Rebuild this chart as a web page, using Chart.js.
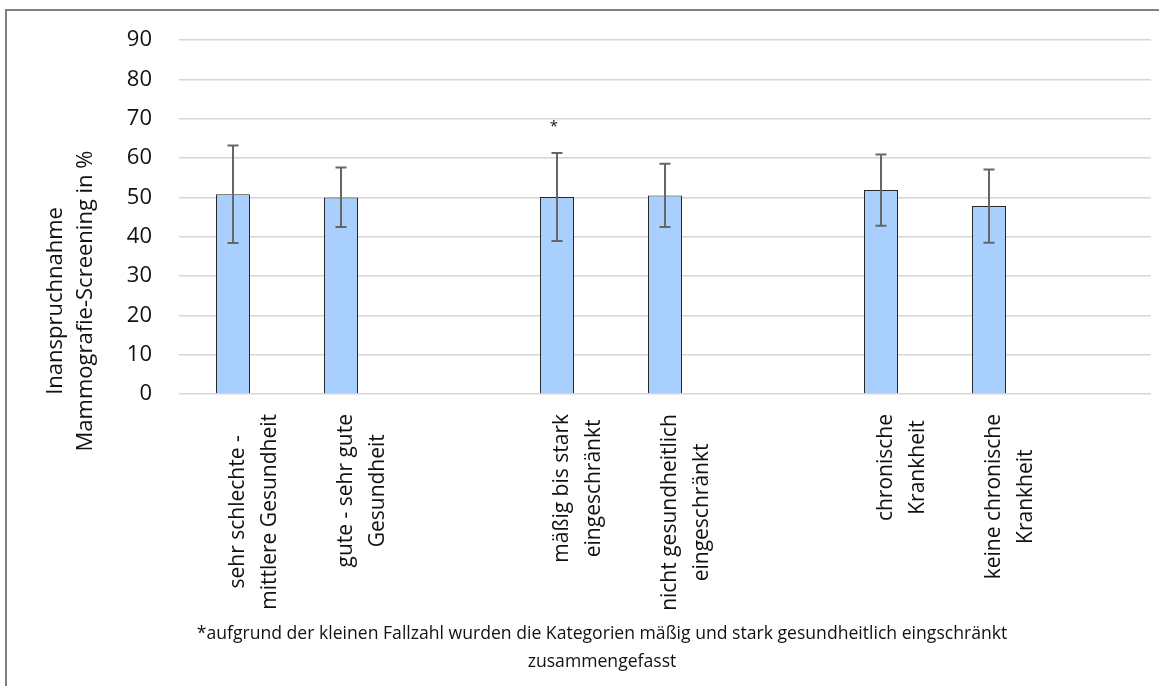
<!DOCTYPE html>
<html>
<head>
<meta charset="utf-8">
<title>Inanspruchnahme Mammografie-Screening</title>
<script src="https://cdn.jsdelivr.net/npm/chart.js@4.4.1/dist/chart.umd.min.js"></script>
<style>
  html, body { margin: 0; padding: 0; background: #ffffff; }
  canvas { display: block; }
</style>
</head>
<body>
<canvas id="chart" width="1159" height="686"></canvas>
<script>
// Categories (empty slots separate the three groups)
const categories = [
  ["sehr schlechte -", "mittlere Gesundheit"],
  ["gute - sehr gute", "Gesundheit"],
  "",
  ["mäßig bis stark", "eingeschränkt"],
  ["nicht gesundheitlich", "eingeschränkt"],
  "",
  ["chronische", "Krankheit"],
  ["keine chronische", "Krankheit"],
  ""
];

// Uptake in % with confidence interval bounds
const uptake  = [50.8, 50.0, null, 50.1, 50.5, null, 51.9, 47.8, null];
const ciLower = [38.4, 42.5, null, 38.9, 42.5, null, 42.8, 38.5, null];
const ciUpper = [63.2, 57.6, null, 61.3, 58.6, null, 60.9, 57.1, null];
const flags   = ["", "", "", "*", "", "", "", "", ""];

// Axis and notes
const yMin = 0;
const yMax = 90;
const yStep = 10;
const yTitle = ["Inanspruchnahme", "Mammografie-Screening in %"];
const footnote = [
  "*aufgrund der kleinen Fallzahl wurden die Kategorien mäßig und stark gesundheitlich eingschränkt",
  "zusammengefasst"
];

const FONT = '"Open Sans", "Noto Sans", sans-serif';
const TEXT = '#111111';

const overlay = {
  id: 'overlay',
  afterDatasetsDraw(chart) {
    const { ctx, scales: { x, y } } = chart;
    ctx.save();
    ctx.strokeStyle = '#666666';
    ctx.lineWidth = 2;
    uptake.forEach((v, i) => {
      if (v == null) return;
      const px = x.getPixelForValue(i);
      const top = y.getPixelForValue(ciUpper[i]);
      const bot = y.getPixelForValue(ciLower[i]);
      ctx.beginPath();
      ctx.moveTo(px, top); ctx.lineTo(px, bot);
      ctx.moveTo(px - 5.5, top); ctx.lineTo(px + 5.5, top);
      ctx.moveTo(px - 5.5, bot); ctx.lineTo(px + 5.5, bot);
      ctx.stroke();
      if (flags[i]) {
        ctx.fillStyle = TEXT;
        ctx.font = '15px ' + FONT;
        ctx.textAlign = 'center';
        ctx.textBaseline = 'alphabetic';
        ctx.fillText(flags[i], px - 3, top - 22);
      }
    });
    ctx.restore();
  },
  afterDraw(chart) {
    const { ctx, scales: { x } } = chart;
    ctx.save();
    ctx.fillStyle = TEXT;
    ctx.textAlign = 'center';
    ctx.textBaseline = 'middle';

    // Rotated two-line category labels, lines centred inside a top-aligned block
    ctx.font = '21px ' + FONT;
    const labelTop = chart.chartArea.bottom + 20;
    categories.forEach((lab, i) => {
      if (!lab) return;
      const lines = Array.isArray(lab) ? lab : [lab];
      const px = x.getPixelForValue(i);
      const maxW = Math.max(...lines.map(l => ctx.measureText(l).width));
      lines.forEach((line, j) => {
        ctx.save();
        ctx.translate(px + 5 + j * 32, labelTop + maxW / 2);
        ctx.rotate(-Math.PI / 2);
        ctx.fillText(line, 0, 0);
        ctx.restore();
      });
    });

    // Y axis title
    ctx.font = '22px ' + FONT;
    yTitle.forEach((line, j) => {
      ctx.save();
      ctx.translate(56 + j * 30, 301);
      ctx.rotate(-Math.PI / 2);
      ctx.fillText(line, 0, 0);
      ctx.restore();
    });

    // Footnote
    ctx.font = '17.6px ' + FONT;
    footnote.forEach((line, j) => {
      ctx.fillText(line, 602, 634 + j * 28);
    });

    // Frame
    ctx.strokeStyle = '#7f7f7f';
    ctx.lineWidth = 2;
    ctx.beginPath();
    ctx.moveTo(6, 686);
    ctx.lineTo(6, 10);
    ctx.lineTo(1159, 10);
    ctx.stroke();
    ctx.restore();
  }
};

new Chart(document.getElementById('chart'), {
  type: 'bar',
  data: {
    labels: categories,
    datasets: [{
      data: uptake,
      backgroundColor: '#a8cffd',
      borderColor: '#262626',
      borderWidth: 1,
      barPercentage: 0.315,
      categoryPercentage: 1
    }]
  },
  options: {
    responsive: false,
    animation: false,
    layout: { padding: { top: 37, right: 8, bottom: 0, left: 0 } },
    plugins: {
      legend: { display: false },
      tooltip: { enabled: false },
      title: { display: false }
    },
    scales: {
      x: {
        grid: { display: false, drawTicks: false },
        border: { display: false },
        ticks: { display: false },
        afterFit(scale) { scale.height = 292; }
      },
      y: {
        min: yMin,
        max: yMax,
        grid: { color: '#d6d6d6', lineWidth: 1.5, drawTicks: false },
        border: { display: false },
        ticks: {
          stepSize: yStep,
          padding: 27,
          color: TEXT,
          font: { size: 22, family: FONT }
        },
        afterFit(scale) { scale.width = 179; }
      }
    }
  },
  plugins: [overlay]
});
</script>
</body>
</html>
